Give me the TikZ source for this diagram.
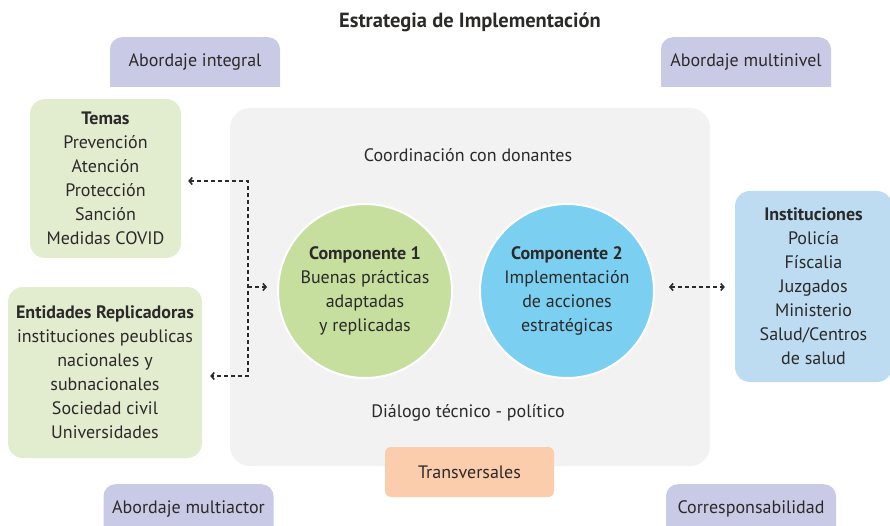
\documentclass[tikz,border=0pt]{standalone}
\usepackage{fontspec}
\setmainfont{PT Sans}
\usetikzlibrary{arrows.meta}
\definecolor{mInk}{HTML}{2B2A29}
\definecolor{mTab}{HTML}{C9CBE6}
\definecolor{mPanel}{HTML}{F2F2F2}
\definecolor{mLeaf}{HTML}{E2ECCF}
\definecolor{mLeafDark}{HTML}{C6DF9F}
\definecolor{mSky}{HTML}{7BD0F2}
\definecolor{mSkyLight}{HTML}{BDDCF1}
\definecolor{mPeach}{HTML}{FBCDAC}

\begin{document}
\begin{tikzpicture}[x=1pt, y=-1pt,
    every node/.style={font=\fontsize{18}{24}\selectfont, text=mInk, align=center},
    box/.style={rounded corners=15pt, inner sep=0pt},
    comp/.style={circle, draw=white, line width=2pt, minimum size=174pt, inner sep=0pt},
    tab/.style={fill=mTab, rounded corners=12pt, minimum width=170pt, text height=16pt, text depth=60pt, inner ysep=13pt, anchor=north},
    link/.style={mInk, line width=1.6pt, dash pattern=on 4pt off 3pt},
    >={Straight Barb[length=3pt,width=7pt]}]
    \useasboundingbox (0,0) rectangle (890,526);

    \node[font=\bfseries\fontsize{20.5}{24}\selectfont] (title) at (470,22) {Estrategia de Implementación};

    % pestanas
    \foreach \nm/\cx/\ty/\lab in {integral/195/37/Abordaje integral, multinivel/746/37/Abordaje multinivel,
        multiactor/188.5/484/Abordaje multiactor, corresp/751/484/Corresponsabilidad} {
      \begin{scope}
        \clip (\cx-90,\ty) rectangle (\cx+90,\ty+50);
        \node[tab] (\nm) at (\cx,\ty) {\lab};
      \end{scope}
    }

    % panel central
    \node[fill=mPanel, rounded corners=20pt, minimum width=480pt, minimum height=358pt] (panel) at (470,287) {};
    \node (donantes) at (468,155) {Coordinación con donantes};
    \node (dialogo) at (468,413) {Diálogo técnico - político};
    \node[comp, fill=mLeafDark] (comp1) at (365,291) {\textbf{Componente 1}\\Buenas prácticas\\adaptadas\\y replicadas};
    \node[comp, fill=mSky] (comp2) at (567,291) {\textbf{Componente 2}\\Implementación\\de acciones\\estratégicas};
    \node[fill=mPeach, rounded corners=6pt, minimum width=169pt, minimum height=50pt] (transv) at (469.5,472) {Transversales};

    % cajas laterales
    \node[box, fill=mLeaf, minimum width=151pt, minimum height=159pt] (temas) at (105.5,178.5)
      {\textbf{Temas}\\Prevención\\Atención\\Protección\\Sanción\\Medidas COVID};
    \node[box, fill=mLeaf, minimum width=194pt, minimum height=171pt] (entidades) at (105,372.5)
      {\textbf{Entidades Replicadoras}\\instituciones peublicas\\nacionales y\\subnacionales\\Sociedad civil\\Universidades};
    \node[box, fill=mSkyLight, minimum width=157pt, minimum height=191pt] (inst) at (813.5,286.5)
      {\textbf{Instituciones}\\Policía\\Físcalia\\Juzgados\\Ministerio\\Salud/Centros\\de salud};

    % conectores
    \coordinate (jt) at (248,181);
    \coordinate (je) at (248,376);
    \draw[link, <->, shorten <=7pt, shorten >=8pt] (temas.east |- jt) -- (jt) -- (je) -- (entidades.east |- je);
    \draw[link, ->, shorten >=10pt] (jt |- 0,287) -- (comp1.west |- 0,287);
    \draw[link, <->, shorten <=14pt, shorten >=10pt] (comp2.east |- 0,287) -- (inst.west |- 0,287);
\end{tikzpicture}
\end{document}
